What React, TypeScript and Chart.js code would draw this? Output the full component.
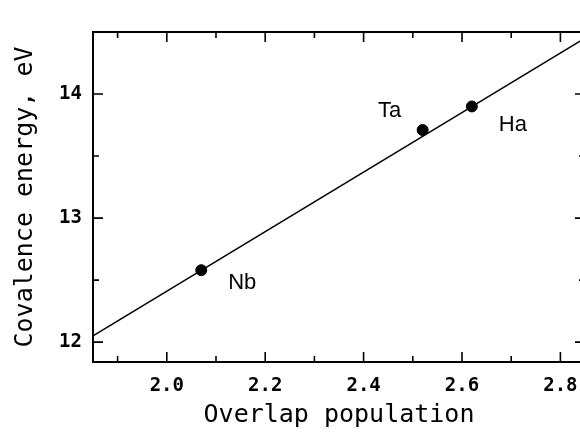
import React, { useEffect, useRef } from "react";
import { Chart, registerables } from "chart.js";

Chart.register(...registerables);

// ---- data ----
const elements = ["Nb", "Ta", "Ha"];
const overlapPopulation = [2.07, 2.52, 2.62];
const covalenceEnergy = [12.58, 13.71, 13.9];
const fitX = [1.85, 2.85];
const fitY = [12.05, 14.45];
const xTicks = [2.0, 2.2, 2.4, 2.6, 2.8];
const xMinor = [1.9, 2.1, 2.3, 2.5, 2.7];
const yTicks = [12, 13, 14];
const yMinor = [12.5, 13.5];
const xTitle = "Overlap population";
const yTitle = "Covalence energy, eV";

const labelOffsets: Record<string, [number, number]> = {
  Nb: [41, 13],
  Ta: [-33, -19],
  Ha: [41, 19],
};

const frameAndLabels = {
  id: "frameAndLabels",
  afterDraw(chart: any) {
    const { ctx, chartArea: a, scales } = chart;
    const xs = scales.x;
    const ys = scales.y;
    ctx.save();
    ctx.strokeStyle = "#000";
    ctx.lineWidth = 2;
    ctx.strokeRect(a.left, a.top, a.right - a.left, a.bottom - a.top);
    const major = 10;
    const minor = 6;
    ctx.lineWidth = 1.6;
    ctx.beginPath();
    const xt = (v: number, len: number) => {
      const px = xs.getPixelForValue(v);
      ctx.moveTo(px, a.bottom);
      ctx.lineTo(px, a.bottom - len);
      ctx.moveTo(px, a.top);
      ctx.lineTo(px, a.top + len);
    };
    const yt = (v: number, len: number) => {
      const py = ys.getPixelForValue(v);
      ctx.moveTo(a.left, py);
      ctx.lineTo(a.left + len, py);
      ctx.moveTo(a.right, py);
      ctx.lineTo(a.right - len, py);
    };
    xTicks.forEach((v) => xt(v, major));
    xMinor.forEach((v) => xt(v, minor));
    yTicks.forEach((v) => yt(v, major));
    yMinor.forEach((v) => yt(v, minor));
    ctx.stroke();

    ctx.fillStyle = "#000";
    ctx.font = "22px 'Liberation Sans'";
    ctx.textAlign = "center";
    ctx.textBaseline = "middle";
    elements.forEach((name, i) => {
      const px = xs.getPixelForValue(overlapPopulation[i]);
      const py = ys.getPixelForValue(covalenceEnergy[i]);
      const off = labelOffsets[name] || [0, 0];
      ctx.fillText(name, px + off[0], py + off[1]);
    });
    ctx.restore();
  },
};

export default function App() {
  const ref = useRef<HTMLCanvasElement | null>(null);
  useEffect(() => {
    if (!ref.current) return;
    const chart = new Chart(ref.current, {
      type: "scatter",
      data: {
        datasets: [
          {
            type: "line",
            data: fitX.map((x, i) => ({ x, y: fitY[i] })),
            borderColor: "#000",
            borderWidth: 1.5,
            pointRadius: 0,
            fill: false,
          } as any,
          {
            data: overlapPopulation.map((x, i) => ({ x, y: covalenceEnergy[i] })),
            backgroundColor: "#000",
            borderColor: "#000",
            pointRadius: 5.5,
          },
        ],
      },
      options: {
        responsive: false,
        animation: false,
        devicePixelRatio: 1,
        layout: { padding: { top: 32, right: 15, left: 0, bottom: 0 } },
        plugins: { legend: { display: false }, tooltip: { enabled: false } },
        scales: {
          x: {
            type: "linear",
            min: 1.85,
            max: 2.85,
            grid: { display: false, drawTicks: false },
            border: { display: false },
            afterBuildTicks: (s: any) => {
              s.ticks = xTicks.map((v) => ({ value: v }));
            },
            afterFit: (s: any) => {
              s.height = 75;
            },
            ticks: {
              padding: 13,
              color: "#000",
              font: { family: "'DejaVu Sans Mono'", size: 19, weight: "bold" },
              callback: (v: any) => Number(v).toFixed(1),
            },
            title: {
              display: true,
              text: xTitle,
              color: "#000",
              font: { family: "'DejaVu Sans Mono'", size: 25 },
              padding: { top: 0, bottom: 7 },
            },
          },
          y: {
            type: "linear",
            min: 11.84,
            max: 14.5,
            grid: { display: false, drawTicks: false },
            border: { display: false },
            afterBuildTicks: (s: any) => {
              s.ticks = yTicks.map((v) => ({ value: v }));
            },
            afterFit: (s: any) => {
              s.width = 93;
            },
            ticks: {
              padding: 11,
              color: "#000",
              font: { family: "'DejaVu Sans Mono'", size: 19, weight: "bold" },
              callback: (v: any) => String(v),
            },
            title: {
              display: true,
              text: yTitle,
              color: "#000",
              font: { family: "'DejaVu Sans Mono'", size: 25 },
              padding: { top: 10, bottom: 0 },
            },
          },
        },
      },
      plugins: [frameAndLabels],
    } as any);
    return () => chart.destroy();
  }, []);
  return (
    <div
      style={{
        position: "fixed",
        left: 0,
        top: 0,
        width: 580,
        height: 437,
        overflow: "hidden",
        background: "#fff",
      }}
    >
      <canvas ref={ref} width={600} height={437} style={{ display: "block", width: 600, height: 437 }} />
    </div>
  );
}
